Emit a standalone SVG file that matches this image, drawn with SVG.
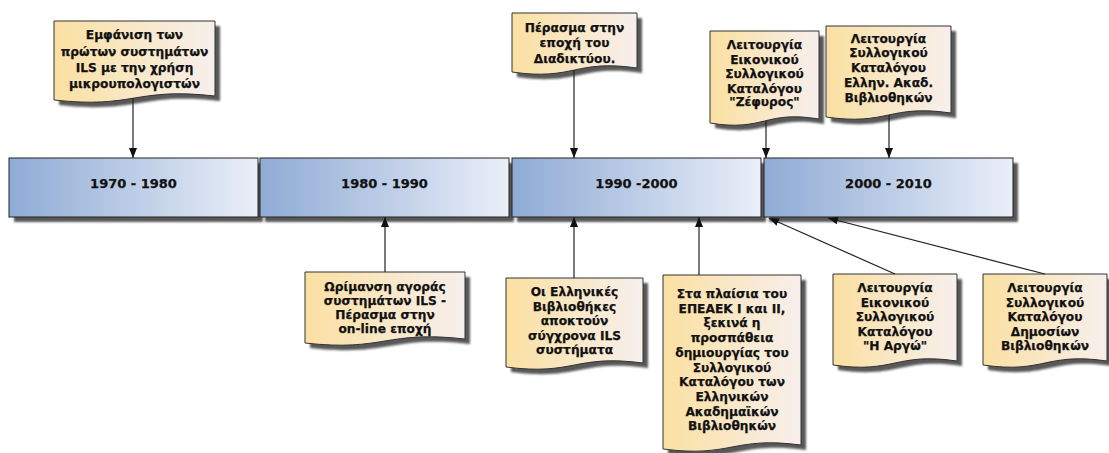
<svg xmlns="http://www.w3.org/2000/svg" width="1109" height="453" viewBox="0 0 1109 453">
<style>
.bar{stroke:#222;stroke-width:1;fill:url(#barGrad)}
.note{stroke:#333;stroke-width:1;fill:url(#noteGrad)}
.shadow{fill:#3a3a3a;opacity:0.85;filter:url(#blur)}
.t{font-family:"DejaVu Sans","Liberation Sans",sans-serif;font-weight:bold;font-size:12.2px;fill:#111;stroke:#111;stroke-width:0.25;text-anchor:middle}
.bt{font-family:"DejaVu Sans","Liberation Sans",sans-serif;font-weight:bold;font-size:13px;fill:#111;stroke:#111;stroke-width:0.25;text-anchor:middle}
.conn{stroke:#222;stroke-width:1.2;fill:none;marker-end:url(#arr)}
</style>
<defs>
<linearGradient id="barGrad" x1="0" y1="0" x2="1" y2="0">
<stop offset="0" stop-color="#8fabd5"/>
<stop offset="1" stop-color="#eaeff8"/>
</linearGradient>
<linearGradient id="noteGrad" x1="0" y1="0" x2="1" y2="0">
<stop offset="0" stop-color="#fbe0a2"/>
<stop offset="1" stop-color="#f7efec"/>
</linearGradient>
<filter id="blur" x="-10%" y="-10%" width="120%" height="120%">
<feGaussianBlur stdDeviation="1"/>
</filter>
<marker id="arr" markerUnits="userSpaceOnUse" markerWidth="10" markerHeight="10" viewBox="0 0 10 10" refX="10" refY="5" orient="auto">
<path d="M0,1 L10,5 L0,9 Z" fill="#111"/>
</marker>
</defs>

<g id="bar-1970">
<rect class="shadow" x="14" y="163" width="249" height="59"/>
<rect class="bar" x="9" y="158" width="249" height="59"/>
<text class="bt" x="133.5" y="188">1970 - 1980</text>
</g>
<g id="bar-1980">
<rect class="shadow" x="265" y="163" width="249" height="59"/>
<rect class="bar" x="260" y="158" width="249" height="59"/>
<text class="bt" x="384.5" y="188">1980 - 1990</text>
</g>
<g id="bar-1990">
<rect class="shadow" x="517" y="163" width="249" height="59"/>
<rect class="bar" x="512" y="158" width="249" height="59"/>
<text class="bt" x="636.5" y="188">1990 -2000</text>
</g>
<g id="bar-2000">
<rect class="shadow" x="769" y="163" width="249" height="59"/>
<rect class="bar" x="764" y="158" width="249" height="59"/>
<text class="bt" x="888.5" y="188">2000 - 2010</text>
</g>

<g id="note-ils-micro">
<path class="shadow" transform="translate(5,5)" d="M54,21 H215 V96 C134.5,87 134.5,109 54,100 Z"/>
<path class="note" d="M54,21 H215 V96 C134.5,87 134.5,109 54,100 Z"/>
<text class="t" x="134.5" y="39">Εμφάνιση των</text>
<text class="t" x="134.5" y="56">πρώτων συστημάτων</text>
<text class="t" x="134.5" y="72">ILS με την χρήση</text>
<text class="t" x="134.5" y="88">μικρουπολογιστών</text>
</g>

<g id="note-internet">
<path class="shadow" transform="translate(5,5)" d="M512,13 H637 V68 C574.5,59 574.5,81 512,72 Z"/>
<path class="note" d="M512,13 H637 V68 C574.5,59 574.5,81 512,72 Z"/>
<text class="t" x="574.5" y="32">Πέρασμα στην</text>
<text class="t" x="574.5" y="47">εποχή του</text>
<text class="t" x="574.5" y="63">Διαδικτύου.</text>
</g>

<g id="note-zefyros">
<path class="shadow" transform="translate(5,5)" d="M710,31 H819 V119 C764.5,110 764.5,132 710,123 Z"/>
<path class="note" d="M710,31 H819 V119 C764.5,110 764.5,132 710,123 Z"/>
<text class="t" x="764.5" y="49">Λειτουργία</text>
<text class="t" x="764.5" y="64">Εικονικού</text>
<text class="t" x="764.5" y="78">Συλλογικού</text>
<text class="t" x="764.5" y="93">Καταλόγου</text>
<text class="t" x="764.5" y="106">"Ζέφυρος"</text>
</g>

<g id="note-heal">
<path class="shadow" transform="translate(5,5)" d="M826,26 H951 V113 C888.5,104 888.5,126 826,117 Z"/>
<path class="note" d="M826,26 H951 V113 C888.5,104 888.5,126 826,117 Z"/>
<text class="t" x="888.5" y="43">Λειτουργία</text>
<text class="t" x="888.5" y="57">Συλλογικού</text>
<text class="t" x="888.5" y="72">Καταλόγου</text>
<text class="t" x="888.5" y="87">Ελλην. Ακαδ.</text>
<text class="t" x="888.5" y="102">Βιβλιοθηκών</text>
</g>

<g id="note-market">
<path class="shadow" transform="translate(5,5)" d="M305,272 H465 V339 C385,330 385,352 305,343 Z"/>
<path class="note" d="M305,272 H465 V339 C385,330 385,352 305,343 Z"/>
<text class="t" x="385" y="291">Ωρίμανση αγοράς</text>
<text class="t" x="385" y="305">συστημάτων ILS -</text>
<text class="t" x="385" y="319">Πέρασμα στην</text>
<text class="t" x="385" y="333">on-line εποχή</text>
</g>

<g id="note-greek-libs">
<path class="shadow" transform="translate(5,5)" d="M506,278 H643 V363 C574.5,354 574.5,376 506,367 Z"/>
<path class="note" d="M506,278 H643 V363 C574.5,354 574.5,376 506,367 Z"/>
<text class="t" x="574.5" y="296">Οι Ελληνικές</text>
<text class="t" x="574.5" y="310.5">Βιβλιοθήκες</text>
<text class="t" x="574.5" y="325">αποκτούν</text>
<text class="t" x="574.5" y="339.5">σύγχρονα ILS</text>
<text class="t" x="574.5" y="354">συστήματα</text>
</g>

<g id="note-epeaek">
<path class="shadow" transform="translate(5,5)" d="M663,275 H801 V445 C732,436 732,458 663,449 Z"/>
<path class="note" d="M663,275 H801 V445 C732,436 732,458 663,449 Z"/>
<text class="t" x="732" y="298">Στα πλαίσια του</text>
<text class="t" x="732" y="312.7">ΕΠΕΑΕΚ I και II,</text>
<text class="t" x="732" y="327.4">ξεκινά η</text>
<text class="t" x="732" y="342.1">προσπάθεια</text>
<text class="t" x="732" y="356.8">δημιουργίας του</text>
<text class="t" x="732" y="371.5">Συλλογικού</text>
<text class="t" x="732" y="386.2">Καταλόγου των</text>
<text class="t" x="732" y="400.9">Ελληνικών</text>
<text class="t" x="732" y="415.6">Ακαδημαϊκών</text>
<text class="t" x="732" y="430.3">Βιβλιοθηκών</text>
</g>

<g id="note-argo">
<path class="shadow" transform="translate(5,5)" d="M833,274 H957 V361 C895,352 895,374 833,365 Z"/>
<path class="note" d="M833,274 H957 V361 C895,352 895,374 833,365 Z"/>
<text class="t" x="895" y="292">Λειτουργία</text>
<text class="t" x="895" y="306.5">Εικονικού</text>
<text class="t" x="895" y="321">Συλλογικού</text>
<text class="t" x="895" y="335.5">Καταλόγου</text>
<text class="t" x="895" y="350">"Η Αργώ"</text>
</g>

<g id="note-public-libs">
<path class="shadow" transform="translate(5,5)" d="M983,274 H1107 V361 C1045,352 1045,374 983,365 Z"/>
<path class="note" d="M983,274 H1107 V361 C1045,352 1045,374 983,365 Z"/>
<text class="t" x="1045" y="292">Λειτουργία</text>
<text class="t" x="1045" y="306.5">Συλλογικού</text>
<text class="t" x="1045" y="321">Καταλόγου</text>
<text class="t" x="1045" y="335.5">Δημοσίων</text>
<text class="t" x="1045" y="350">Βιβλιοθηκών</text>
</g>

<g id="connectors">
<line class="conn" x1="133" y1="98" x2="133" y2="158"/>
<line class="conn" x1="574" y1="70" x2="574" y2="158"/>
<line class="conn" x1="766" y1="121" x2="766" y2="158"/>
<line class="conn" x1="889" y1="115" x2="889" y2="158"/>
<line class="conn" x1="385" y1="272" x2="385" y2="217"/>
<line class="conn" x1="574" y1="278" x2="574" y2="217"/>
<line class="conn" x1="699" y1="275" x2="699" y2="217"/>
<line class="conn" x1="895" y1="274" x2="769" y2="218"/>
<line class="conn" x1="1045" y1="274" x2="828" y2="218"/>
</g>
</svg>
